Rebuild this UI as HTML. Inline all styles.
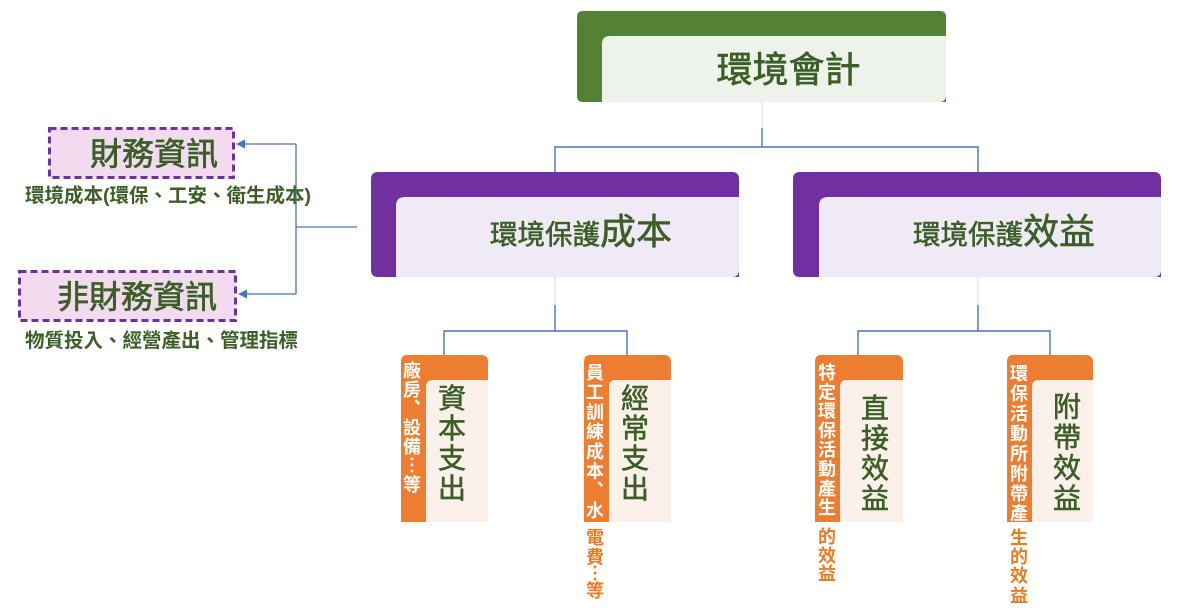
<!DOCTYPE html>
<html><head><meta charset="utf-8"><style>
html,body{margin:0;padding:0;background:#fff;}
svg{display:block;}
text{font-family:"Liberation Sans","Noto Sans CJK TC","Noto Sans CJK SC",sans-serif;}
</style></head><body>
<svg width="1204" height="610" viewBox="0 0 1204 610" xmlns="http://www.w3.org/2000/svg">
<!-- connectors -->
<g stroke-width="1.4" fill="none">
<line x1="762" y1="102" x2="762" y2="128" stroke="#dde4f1"/>
<line x1="762" y1="128" x2="762" y2="147" stroke="#4472C4"/>
<polyline points="555,172 555,147 978,147 978,172" stroke="#4472C4"/>
<line x1="555" y1="277" x2="555" y2="305" stroke="#dde4f1"/>
<line x1="555" y1="305" x2="555" y2="331" stroke="#4472C4"/>
<polyline points="444,355 444,331 627,331 627,355" stroke="#4472C4"/>
<line x1="978" y1="277" x2="978" y2="305" stroke="#dde4f1"/>
<line x1="978" y1="305" x2="978" y2="331" stroke="#4472C4"/>
<polyline points="858,355 858,331 1050,331 1050,355" stroke="#4472C4"/>
</g>

<!-- top green box -->
<path d="M583,11 H940 Q946,11 946,17 V102 H583 Q577,102 577,96 V17 Q577,11 583,11 Z" fill="#548235"/>
<path d="M610,36 H946 V95 Q946,102 939,102 H602 V44 Q602,36 610,36 Z" fill="#EDF2EA"/>
<text x="788.5" y="82" font-size="36" fill="#3B5F26" stroke="#3B5F26" stroke-width="0.7" text-anchor="middle">環境會計</text>

<!-- purple boxes -->
<path d="M378,172 H732 Q739,172 739,179 V277 H378 Q371,277 371,270 V179 Q371,172 378,172 Z" fill="#7030A0"/>
<path d="M405,197 H739 V270 Q739,277 732,277 H396 V206 Q396,197 405,197 Z" fill="#EFEAF5"/>
<text x="490" y="244" font-size="27.5" fill="#3B5F26" stroke="#3B5F26" stroke-width="0.6">環境保護<tspan font-size="36">成本</tspan></text>

<path d="M800,172 H1154 Q1161,172 1161,179 V277 H800 Q793,277 793,270 V179 Q793,172 800,172 Z" fill="#7030A0"/>
<path d="M828,197 H1161 V270 Q1161,277 1154,277 H819 V206 Q819,197 828,197 Z" fill="#EFEAF5"/>
<text x="913" y="244" font-size="27.5" fill="#3B5F26" stroke="#3B5F26" stroke-width="0.6">環境保護<tspan font-size="36">效益</tspan></text>

<!-- orange boxes -->
<g>
<path d="M407,355 H481 Q488,355 488,362 V522 H401 V362 Q401,355 407,355 Z" fill="#ED7D31"/>
<path d="M433,380 H488 V522 H426 V387 Q426,380 433,380 Z" fill="#FCF0EA"/>
<path d="M590,355 H664 Q671,355 671,362 V522 H584 V362 Q584,355 590,355 Z" fill="#ED7D31"/>
<path d="M616,380 H671 V522 H609 V387 Q609,380 616,380 Z" fill="#FCF0EA"/>
<path d="M821,355 H896 Q903,355 903,362 V522 H815 V362 Q815,355 821,355 Z" fill="#ED7D31"/>
<path d="M847,380 H903 V522 H840 V387 Q840,380 847,380 Z" fill="#FCF0EA"/>
<path d="M1013,355 H1086 Q1093,355 1093,362 V522 H1007 V362 Q1007,355 1013,355 Z" fill="#ED7D31"/>
<path d="M1039,380 H1093 V522 H1032 V387 Q1032,380 1039,380 Z" fill="#FCF0EA"/>
</g>

<!-- strip texts (white) -->
<g font-size="18" font-weight="bold" fill="#ffffff" text-anchor="middle">
<text x="412" y="377">廠</text><text x="412" y="396">房</text><text x="412" y="415">︑</text><text x="412" y="434">設</text><text x="412" y="453">備</text><text x="412" y="472">︙</text><text x="412" y="491">等</text>

<text x="595" y="379">員</text><text x="595" y="398.7">工</text><text x="595" y="418.4">訓</text><text x="595" y="438">練</text><text x="595" y="457.8">成</text><text x="595" y="477.5">本</text><text x="595" y="497">︑</text><text x="595" y="517">水</text>

<text x="827" y="379">特</text><text x="827" y="398.3">定</text><text x="827" y="417.6">環</text><text x="827" y="437">保</text><text x="827" y="456.2">活</text><text x="827" y="475.5">動</text><text x="827" y="494.8">產</text><text x="827" y="514">生</text>

<text x="1019" y="380">環</text><text x="1019" y="400">保</text><text x="1019" y="420">活</text><text x="1019" y="440">動</text><text x="1019" y="460">所</text><text x="1019" y="480">附</text><text x="1019" y="500">帶</text><text x="1019" y="519.5">產</text>
</g>

<!-- overflow orange texts -->
<g font-size="18" font-weight="bold" fill="#F07A22" text-anchor="middle">
<text x="595" y="544">電</text><text x="595" y="563.5">費</text><text x="595" y="580">︙</text><text x="595" y="597">等</text>
<text x="827" y="543">的</text><text x="827" y="562">效</text><text x="827" y="580">益</text>
<text x="1019" y="544">生</text><text x="1019" y="563">的</text><text x="1019" y="582">效</text><text x="1019" y="602">益</text>
</g>

<!-- inner vertical titles -->
<g font-size="28" fill="#3B5F26" stroke="#3B5F26" stroke-width="0.6" text-anchor="middle">
<text x="452" y="408">資</text><text x="452" y="438">本</text><text x="452" y="468">支</text><text x="452" y="498">出</text>
<text x="635" y="408">經</text><text x="635" y="438">常</text><text x="635" y="468">支</text><text x="635" y="498">出</text>
<text x="875" y="418">直</text><text x="875" y="448">接</text><text x="875" y="478">效</text><text x="875" y="508">益</text>
<text x="1067" y="416.5">附</text><text x="1067" y="447">帶</text><text x="1067" y="477.5">效</text><text x="1067" y="508">益</text>
</g>

<!-- left dashed boxes -->
<rect x="49.5" y="128.5" width="184" height="49" fill="#F3DBEF" stroke="#7030A0" stroke-width="3" stroke-dasharray="7 4"/>
<text x="90" y="165" font-size="32" fill="#3B5F26" stroke="#3B5F26" stroke-width="0.7">財務資訊</text>
<rect x="19.5" y="271.5" width="216" height="49" fill="#F3DBEF" stroke="#7030A0" stroke-width="3" stroke-dasharray="7 4"/>
<text x="57" y="308" font-size="32" fill="#3B5F26" stroke="#3B5F26" stroke-width="0.7">非財務資訊</text>

<text x="25" y="202" font-size="19.5" font-weight="bold" fill="#3B5F26">環境成本(環保、工安、衛生成本)</text>
<text x="25" y="347" font-size="19.5" font-weight="bold" fill="#3B5F26">物質投入、經營產出、管理指標</text>

<!-- left connector -->
<g stroke="#4472C4" stroke-width="1.3" fill="none">
<line x1="296" y1="227" x2="357" y2="227"/>
<line x1="296" y1="144" x2="296" y2="294"/>
<line x1="296" y1="144" x2="243" y2="144"/>
<line x1="296" y1="294" x2="245" y2="294"/>
</g>
<polygon points="236,144 245,139.5 245,148.5" fill="#4472C4"/>
<polygon points="238,294 247,289.5 247,298.5" fill="#4472C4"/>
</svg>
</body></html>
